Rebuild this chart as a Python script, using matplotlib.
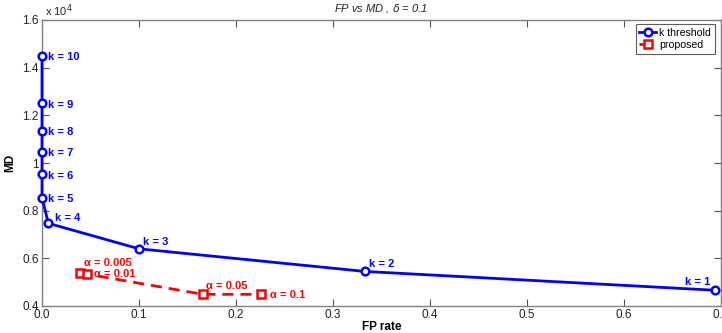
import matplotlib
matplotlib.use("Agg")
import matplotlib.pyplot as plt

# k threshold curve (FP rate, MD)
k_labels = ["k = 1", "k = 2", "k = 3", "k = 4", "k = 5",
            "k = 6", "k = 7", "k = 8", "k = 9", "k = 10"]
k_fp = [0.694, 0.333, 0.100, 0.0065, 0.0, 0.0, 0.0, 0.0, 0.0, 0.0]
k_md = [4660, 5450, 6400, 7470, 8550, 9520, 10480, 11350, 12500, 14500]

# proposed method
alpha_labels = ["\u03b1 = 0.005", "\u03b1 = 0.01", "\u03b1 = 0.05", "\u03b1 = 0.1"]
alpha_fp = [0.039, 0.046, 0.166, 0.226]
alpha_md = [5400, 5340, 4490, 4490]

x_ticks = [0, 0.1, 0.2, 0.3, 0.4, 0.5, 0.6, 0.7]
y_ticks = [4000, 6000, 8000, 10000, 12000, 14000, 16000]
y_tick_labels = ["0.4", "0.6", "0.8", "1", "1.2", "1.4", "1.6"]

plt.rcParams['font.family'] = ['Liberation Sans', 'DejaVu Sans']

fig = plt.figure(figsize=(7.22, 3.33), dpi=100)
ax = fig.add_axes([42 / 722, 27 / 333, 679 / 722, 286 / 333])

blue = "#0000ff"
red = "#ff0000"
ax.plot(k_fp, k_md, color=blue, lw=2, marker="o", ms=5.5, mfc="white",
        mec=blue, mew=1.8, label="k threshold", zorder=3, clip_on=False)
ax.plot(alpha_fp, alpha_md, color=red, lw=2, ls="--", dashes=(4, 2.5),
        marker="s", ms=5.5, mfc="white", mec=red, mew=1.8,
        label="proposed", zorder=3, clip_on=False)

# point labels
k_offsets = {"k = 1": (-22, 4), "k = 2": (3, 3), "k = 3": (3, 3), "k = 4": (5, 2)}
for lab, x, y in zip(k_labels, k_fp, k_md):
    dx, dy = k_offsets.get(lab, (4, -3))
    ax.annotate(lab, (x, y), xytext=(dx, dy), textcoords="offset points",
                color=blue, fontsize=8, fontweight="bold")

a_offsets = [(3, 5), (5, -2), (2, 4), (6, -2.5)]
for lab, x, y, (dx, dy) in zip(alpha_labels, alpha_fp, alpha_md, a_offsets):
    ax.annotate(lab, (x, y), xytext=(dx, dy), textcoords="offset points",
                color=red, fontsize=8, fontweight="bold")

ax.set_xlim(0, 0.7)
ax.set_ylim(4000, 16000)
ax.set_xticks(x_ticks)
ax.set_yticks(y_ticks)
ax.set_yticklabels(y_tick_labels)
ax.tick_params(direction="in", top=True, right=True, length=5, pad=2.5,
               color="#555555", labelcolor="#222222", labelsize=8.5)
for s in ax.spines.values():
    s.set_color("#808080")
    s.set_linewidth(1)

ax.text(0.005, 1.005, "x 10$^4$", transform=ax.transAxes, fontsize=8,
        color="#222222", va="bottom")
ax.set_title("FP vs MD , $\\delta$ = 0.1", fontsize=8, style="italic",
             pad=6, color="#222222")
ax.set_xlabel("FP rate", fontsize=8.5, fontweight="bold", labelpad=0)
ax.set_ylabel("MD", fontsize=8.5, fontweight="bold", labelpad=4)

leg = ax.legend(loc="upper right", fontsize=7.6, fancybox=False,
                handlelength=1.6, handletextpad=0.3, borderpad=0.35,
                labelspacing=0.2, borderaxespad=0,
                bbox_to_anchor=(0.991, 0.986))
leg.get_frame().set_edgecolor("#333333")
leg.get_frame().set_linewidth(0.8)

fig.savefig("out.png", dpi=100)
